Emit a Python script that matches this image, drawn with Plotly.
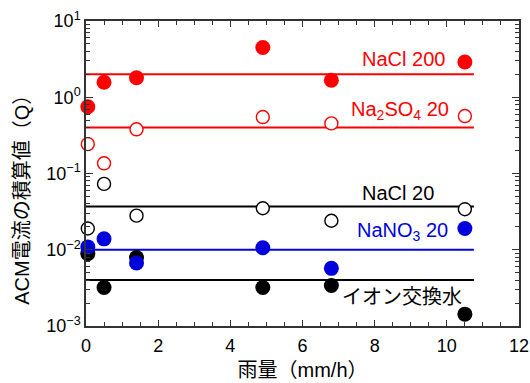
import math
import plotly.graph_objects as go

# Rainfall intensity (mm/h) at each exposure test
rain = [0.05, 0.5, 1.4, 4.9, 6.8, 10.5]

# Integrated ACM current (Q) per spray solution
nacl200 = [0.75, 1.57, 1.80, 4.5, 1.67, 2.9]
na2so4_20 = [0.243, 0.136, 0.38, 0.55, 0.454, 0.567]
nacl20 = [0.019, 0.073, 0.028, 0.035, 0.024, 0.034]
nano3_20 = [0.0109, 0.0139, 0.0067, 0.0106, 0.0057, 0.019]
ion_water = [0.0089, 0.0032, 0.0079, 0.0032, 0.0034, 0.00143]

# Representative level for each solution and the rain range it covers
levels = [2.0, 0.4, 0.037, 0.010, 0.004]
level_span = [0, 10.75]

series_names = ["NaCl 200", "Na<sub>2</sub>SO<sub>4</sub> 20", "NaCl 20",
                "NaNO<sub>3</sub> 20", "イオン交換水"]

y_tickvals = [1e-3, 1e-2, 1e-1, 1e0, 1e1]
y_ticktext = ["10<sup>−3</sup>", "10<sup>−2</sup>", "10<sup>−1</sup>",
              "10<sup>0</sup>", "10<sup>1</sup>"]
x_tickvals = [0, 2, 4, 6, 8, 10, 12]

RED = "#ff0000"
BLUE = "#0000dd"
BLACK = "#000000"
AXIS = "#333333"
FONT = "Liberation Sans, Arial, Noto Sans CJK JP, sans-serif"

colors = [RED, RED, BLACK, BLUE, BLACK]

fig = go.Figure()

# level lines
for lv, c in zip(levels, colors):
    fig.add_trace(go.Scatter(
        x=level_span, y=[lv, lv], mode="lines",
        line=dict(color=c, width=2), hoverinfo="skip", showlegend=False))

# measured points (filled = circle, open = white circle with colored rim)
point_sets = [
    (nacl200, RED, True),
    (na2so4_20, RED, False),
    (nacl20, BLACK, False),
    (ion_water, BLACK, True),
    (nano3_20, BLUE, True),
]
for vals, c, filled in point_sets:
    if filled:
        marker = dict(symbol="circle", size=15, color=c, line=dict(width=0))
    else:
        marker = dict(symbol="circle", size=13, color="white",
                      line=dict(color=c, width=1.4))
    fig.add_trace(go.Scatter(
        x=rain, y=vals, mode="markers", marker=marker,
        cliponaxis=False, showlegend=False))

# series labels (right edge, value at text centre)
label_pos = [(10.0, 3.17), (10.12, 0.68), (9.7, 0.0553), (10.08, 0.0175), (10.47, 0.00239)]
for name, (lx, ly), c in zip(series_names, label_pos, colors):
    fig.add_annotation(
        x=lx, y=math.log10(ly), text=name, showarrow=False,
        xanchor="right", yanchor="middle",
        font=dict(family=FONT, size=20, color=c))

# y-axis title
fig.add_annotation(
    xref="paper", yref="paper", x=-0.148, y=0.43, textangle=-90,
    text="ACM電流の積算値（Q）", showarrow=False,
    xanchor="center", yanchor="middle",
    font=dict(family=FONT, size=20, color=BLACK))

axis_common = dict(
    showline=True, linecolor=AXIS, linewidth=1.5, mirror="allticks",
    ticks="inside", tickcolor=AXIS, tickwidth=1.2,
    showgrid=False, zeroline=False, automargin=False,
    tickfont=dict(family=FONT, size=18, color=BLACK),
)

fig.update_xaxes(
    range=[0, 12], tickvals=x_tickvals, ticklen=6, ticklabelstandoff=3,
    minor=dict(dtick=0.5, ticks="inside", ticklen=4, tickcolor=AXIS, showgrid=False),
    title=dict(text="雨量（mm/h）", font=dict(family=FONT, size=20, color=BLACK), standoff=8),
    **axis_common)

fig.update_yaxes(
    type="log", range=[-3, 1], tickvals=y_tickvals, ticktext=y_ticktext, ticklen=7,
    minor=dict(dtick="D1", ticks="inside", ticklen=4, tickcolor=AXIS, showgrid=False),
    **axis_common)

fig.update_layout(
    width=530, height=383,
    margin=dict(l=86, r=11, t=21, b=57),
    plot_bgcolor="white", paper_bgcolor="white",
    font=dict(family=FONT, color=BLACK),
)

fig.write_html("out.html")
